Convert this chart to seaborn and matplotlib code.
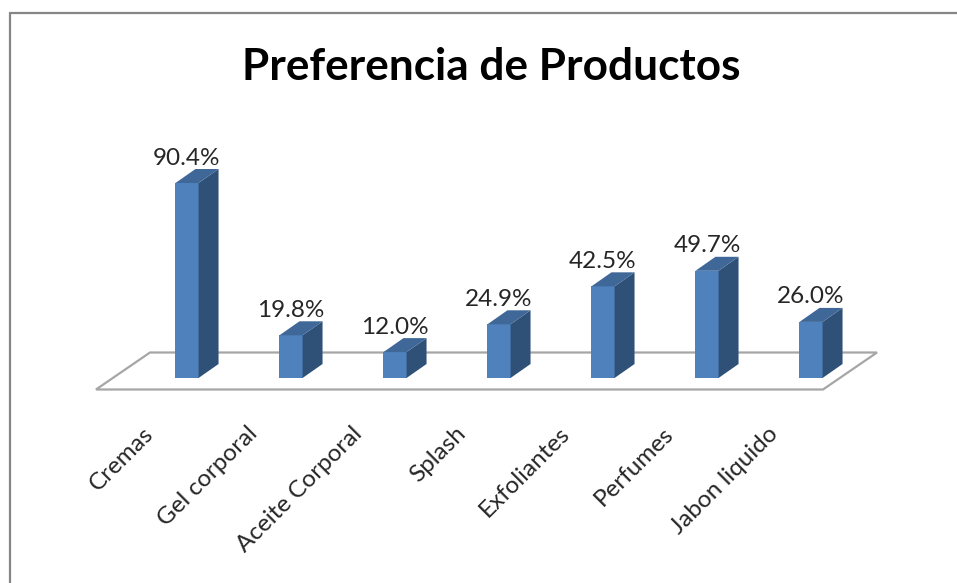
#!/usr/bin/env python3
"""Preferencia de Productos - fake 3D column chart, like the spreadsheet original."""

import matplotlib

matplotlib.use("Agg")

import matplotlib.pyplot as plt
import pandas as pd
import seaborn as sns
from matplotlib.lines import Line2D
from matplotlib.patches import Polygon

productos = ["Cremas", "Gel corporal", "Aceite Corporal", "Splash", "Exfoliantes", "Perfumes", "Jabon liquido"]
porcentajes = [90.4, 19.8, 12.0, 24.9, 42.5, 49.7, 26.0]

W, H = 957, 583
BAR_FRONT = "#4f81bd"
BAR_TOP = "#3f6797"
BAR_SIDE = "#2f5178"
FLOOR = "#a6a6a6"
BORDER = "#868686"
DEPTH_X, DEPTH_Y = 20, 14  # pixels

sns.set_theme(style="white")
plt.rcParams["font.family"] = ["Lato", "DejaVu Sans"]


def fig_xy(x, y):
    """Pixel position in the reference to figure coords."""
    return (x / W, 1 - y / H)


df = pd.DataFrame({"producto": productos, "pct": porcentajes})

fig = plt.figure(figsize=(W / 100, H / 100), dpi=100, facecolor="white")

# axes run from px 135 to 863, baseline at y=378, 100% at y=162.3
ax = fig.add_axes([135 / W, 1 - 378 / H, 728 / W, 215.7 / H])
ax.patch.set_visible(False)
sns.barplot(data=df, x="producto", y="pct", color=BAR_FRONT, saturation=1, width=0.222, linewidth=0, ax=ax, zorder=3)
ax.set_xlim(-0.5, 6.5)
ax.set_ylim(0, 100)
ax.axis("off")

# chart border: only the top and left edges are in the crop
fig.add_artist(Line2D([10 / W, 10 / W], [0, 1 - 13 / H], color=BORDER, lw=1.6))
fig.add_artist(Line2D([10 / W, 1], [1 - 13 / H, 1 - 13 / H], color=BORDER, lw=1.6))

# floor of the 3D box
floor = Polygon(
    [fig_xy(96, 389.5), fig_xy(150, 352.5), fig_xy(877, 352.5), fig_xy(823, 389.5)],
    closed=True,
    facecolor="white",
    edgecolor=FLOOR,
    lw=1.6,
    transform=fig.transFigure,
    zorder=-1,
)
fig.add_artist(floor)

# side and top faces, hung on the bars seaborn drew
dx = DEPTH_X / 104
dy = DEPTH_Y / 2.157
for bar, valor in zip(ax.patches, porcentajes):
    x0 = bar.get_x()
    x1 = x0 + bar.get_width()
    ax.add_patch(Polygon([(x1, 0), (x1 + dx, dy), (x1 + dx, valor + dy), (x1, valor)], facecolor=BAR_SIDE, edgecolor="none", zorder=3, clip_on=False))
    ax.add_patch(Polygon([(x0, valor), (x0 + dx, valor + dy), (x1 + dx, valor + dy), (x1, valor)], facecolor=BAR_TOP, edgecolor="none", zorder=3, clip_on=False))
    bar.set_clip_on(False)

for i, (nombre, valor) in enumerate(zip(productos, porcentajes)):
    ax.annotate(
        f"{valor:.1f}%",
        (i, valor),
        xytext=(0, 25),
        textcoords="offset pixels",
        ha="center",
        va="center",
        fontsize=17.5,
        color="#262626",
        annotation_clip=False,
    )
    ax.annotate(
        nombre,
        (i, 0),
        xytext=(-44, -45),
        textcoords="offset pixels",
        ha="right",
        va="top",
        rotation=45,
        rotation_mode="anchor",
        fontsize=17.5,
        color="#262626",
        annotation_clip=False,
    )

fig.text(491 / W, 1 - 67 / H, "Preferencia de Productos", ha="center", va="center", fontsize=31.8, fontweight="bold", color="black")

fig.savefig("out.png", dpi=100)
